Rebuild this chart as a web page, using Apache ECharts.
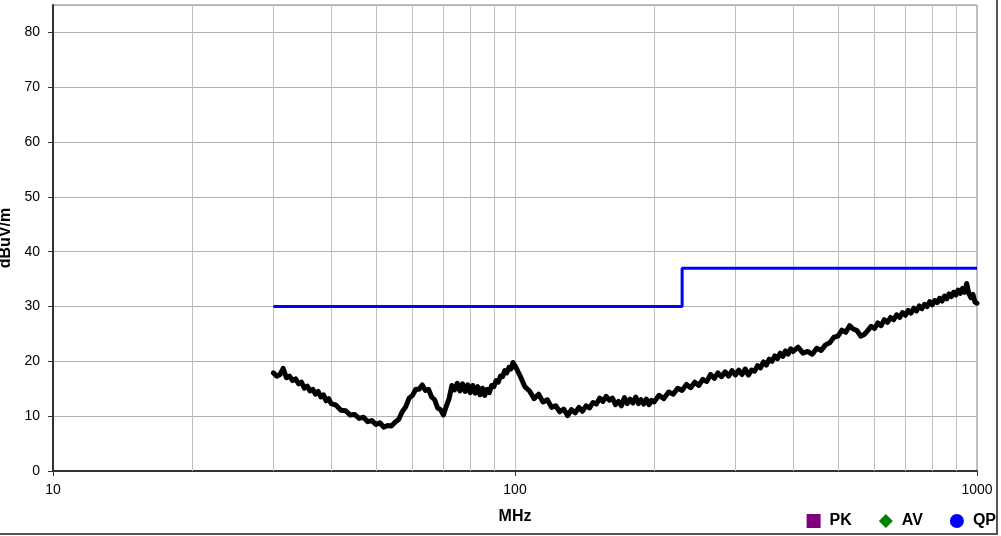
<!DOCTYPE html>
<html><head><meta charset="utf-8">
<script src="https://cdn.jsdelivr.net/npm/echarts@6/dist/echarts.min.js"></script>
<style>html,body{margin:0;padding:0;background:#fff}#c{width:1001px;height:536px}</style>
</head><body><div id="c"></div>
<script>
var freqMHz = [
30,30.5,31,31.5,32,32.5,33,33.5,34,34.5,35,35.5,36,36.5,37,37.5,38,38.5,39,39.5,40,
41,42,43,44,45,46,47,48,49,50,51,52,53,54,55,56,57,58,59,60,
61,62,63,64,65,66,67,68,69,70,71,72,73,74,75,76,77,78,79,80,81,82,83,84,85,86,87,88,89,90,91,92,93,94,95,96,97,98,99,100,
102.5,105,107.5,110,112.5,115,117.5,120,122.5,125,127.5,130,132.5,135,137.5,140,142.5,145,147.5,150,152.5,155,157.5,160,162.5,165,167.5,170,172.5,175,177.5,180,182.5,185,187.5,190,192.5,195,197.5,200,
205,210,215,220,225,230,235,240,245,250,255,260,265,270,275,280,285,290,295,300,305,310,315,320,325,330,335,340,345,350,355,360,365,370,375,380,385,390,395,400,
410,420,430,440,450,460,470,480,490,500,510,520,530,540,550,560,570,580,590,600,610,620,630,640,650,660,670,680,690,700,710,720,730,740,750,760,770,780,790,800,810,820,830,840,850,860,870,880,890,900,910,920,930,940,950,960,970,980,990,1000];
var levelDb = [
17.9,17.3,17.6,18.7,17.0,17.3,16.5,16.8,15.9,16.2,15.1,15.5,14.6,14.9,14.0,14.5,13.5,13.9,12.8,13.2,12.3,
12.0,11.1,11.0,10.2,10.3,9.6,9.8,9.0,9.2,8.5,8.8,8.0,8.3,8.2,8.9,9.4,10.8,11.7,13.3,13.8,
14.9,14.9,15.7,14.7,14.9,13.5,13.0,11.5,11.2,10.2,11.8,13.2,15.6,14.8,16.0,14.6,15.9,14.5,15.7,14.3,15.6,14.2,15.4,13.9,15.1,13.8,14.9,14.3,15.6,15.4,16.5,16.2,17.3,17.2,18.3,17.9,18.9,18.6,19.8,19.2,
17.4,15.4,14.6,13.2,14.0,12.6,13.0,11.6,11.9,10.8,11.3,10.1,11.2,10.6,11.6,10.9,11.9,11.5,12.5,12.2,13.3,12.7,13.6,12.9,13.3,12.1,12.7,11.9,13.4,12.3,13.1,12.4,13.5,12.3,13.0,12.2,13.1,12.1,12.9,12.6,
13.8,13.2,14.4,14.0,15.1,14.7,15.8,15.2,16.2,15.6,16.7,16.3,17.6,16.9,17.9,17.2,18.1,17.3,18.3,17.5,18.4,17.6,18.6,17.5,18.4,18.2,19.2,18.8,19.9,19.3,20.4,20.0,21.0,20.5,21.5,20.9,21.9,21.3,22.3,21.8,
22.6,21.5,21.8,21.3,22.4,22.0,23.0,23.4,24.4,24.6,25.7,25.3,26.5,25.9,25.6,24.6,24.9,25.6,26.4,26.0,27.0,26.5,27.6,27.1,28.0,27.6,28.5,28.0,28.9,28.4,29.3,28.8,29.7,29.2,30.1,29.6,30.4,30.0,30.9,30.3,31.1,30.7,31.5,31.0,31.9,31.4,32.3,31.8,32.6,32.1,33.0,32.4,33.3,32.6,34.2,32.4,31.6,32.2,30.8,30.6];
var limitFreq = [30,230,230,1000];
var limitDb = [30,30,37,37];
var minorGridFreq = [20,30,40,50,60,70,80,90,200,300,400,500,600,700,800,900];
var yTicks = [0,10,20,30,40,50,60,70,80];
var legendNames = ['PK','AV','QP'];

var trace = freqMHz.map(function(f,i){return [f, levelDb[i]];});
var limit = limitFreq.map(function(f,i){return [f, limitDb[i]];});
var chart = echarts.init(document.getElementById('c'));
var font = 'Liberation Sans, Arial, sans-serif';
chart.setOption({
  animation:false,
  backgroundColor:'#fff',
  grid:{left:53,right:24,top:5,bottom:65,show:true,borderColor:'#808080',borderWidth:1,
    containLabel:false,outerBoundsMode:'none'},
  legend:{right:0,bottom:2,itemWidth:14,itemHeight:14,itemGap:27,
    textStyle:{fontFamily:font,fontSize:16,fontWeight:'bold',color:'#000',padding:[0,0,0,4]},
    data:[{name:'PK',icon:'rect'},{name:'AV',icon:'diamond'},{name:'QP',icon:'circle'}]},
  xAxis:{type:'log',logBase:10,min:10,max:1000,
    name:'MHz',nameLocation:'middle',nameGap:38,
    nameTextStyle:{fontFamily:font,fontSize:16,fontWeight:'bold',color:'#000'},
    axisLine:{show:true,lineStyle:{color:'#333',width:2}},
    axisTick:{show:true,length:5,lineStyle:{color:'#333'}},
    axisLabel:{fontFamily:font,fontSize:14,color:'#000',margin:12,
      formatter:function(v){return String(Math.round(v));}},
    splitLine:{show:true,lineStyle:{color:'#c0c0c0',width:1}},
    minorTick:{show:false},minorSplitLine:{show:false}},
  yAxis:{type:'value',min:0,max:85,interval:10,
    name:'dBuV/m',nameLocation:'middle',nameGap:34,
    nameTextStyle:{fontFamily:font,fontSize:16,fontWeight:'bold',color:'#000'},
    axisLine:{show:true,lineStyle:{color:'#333',width:2}},
    axisTick:{show:true,length:5,lineStyle:{color:'#333'}},
    axisLabel:{fontFamily:font,fontSize:14,color:'#000',margin:13,showMaxLabel:false,
      formatter:function(v){return yTicks.indexOf(v)>=0?String(v):'';}},
    splitLine:{show:true,lineStyle:{color:'#b0b0b0',width:1}}},
  series:[
    {name:'grid',type:'line',data:[],silent:true,
      markLine:{silent:true,symbol:'none',label:{show:false},
        lineStyle:{color:'#c0c0c0',width:1,type:'solid'},
        data:minorGridFreq.map(function(f){return {xAxis:f};})}},
    {name:'trace',type:'line',data:trace,showSymbol:false,symbol:'none',
      lineStyle:{color:'#000',width:5,join:'round',cap:'round'},z:5},
    {name:'limit',type:'line',data:limit,showSymbol:false,symbol:'none',
      lineStyle:{color:'#0000ff',width:3},z:6},
    {name:'PK',type:'line',data:[],itemStyle:{color:'#800080'}},
    {name:'AV',type:'line',data:[],itemStyle:{color:'#008000'}},
    {name:'QP',type:'line',data:[],itemStyle:{color:'#0000ff'}}
  ],
  graphic:[{type:'polyline',shape:{points:[[0,534],[997,534],[997,0]]},
    style:{stroke:'#555',lineWidth:2,fill:null}}]
});
</script></body></html>
